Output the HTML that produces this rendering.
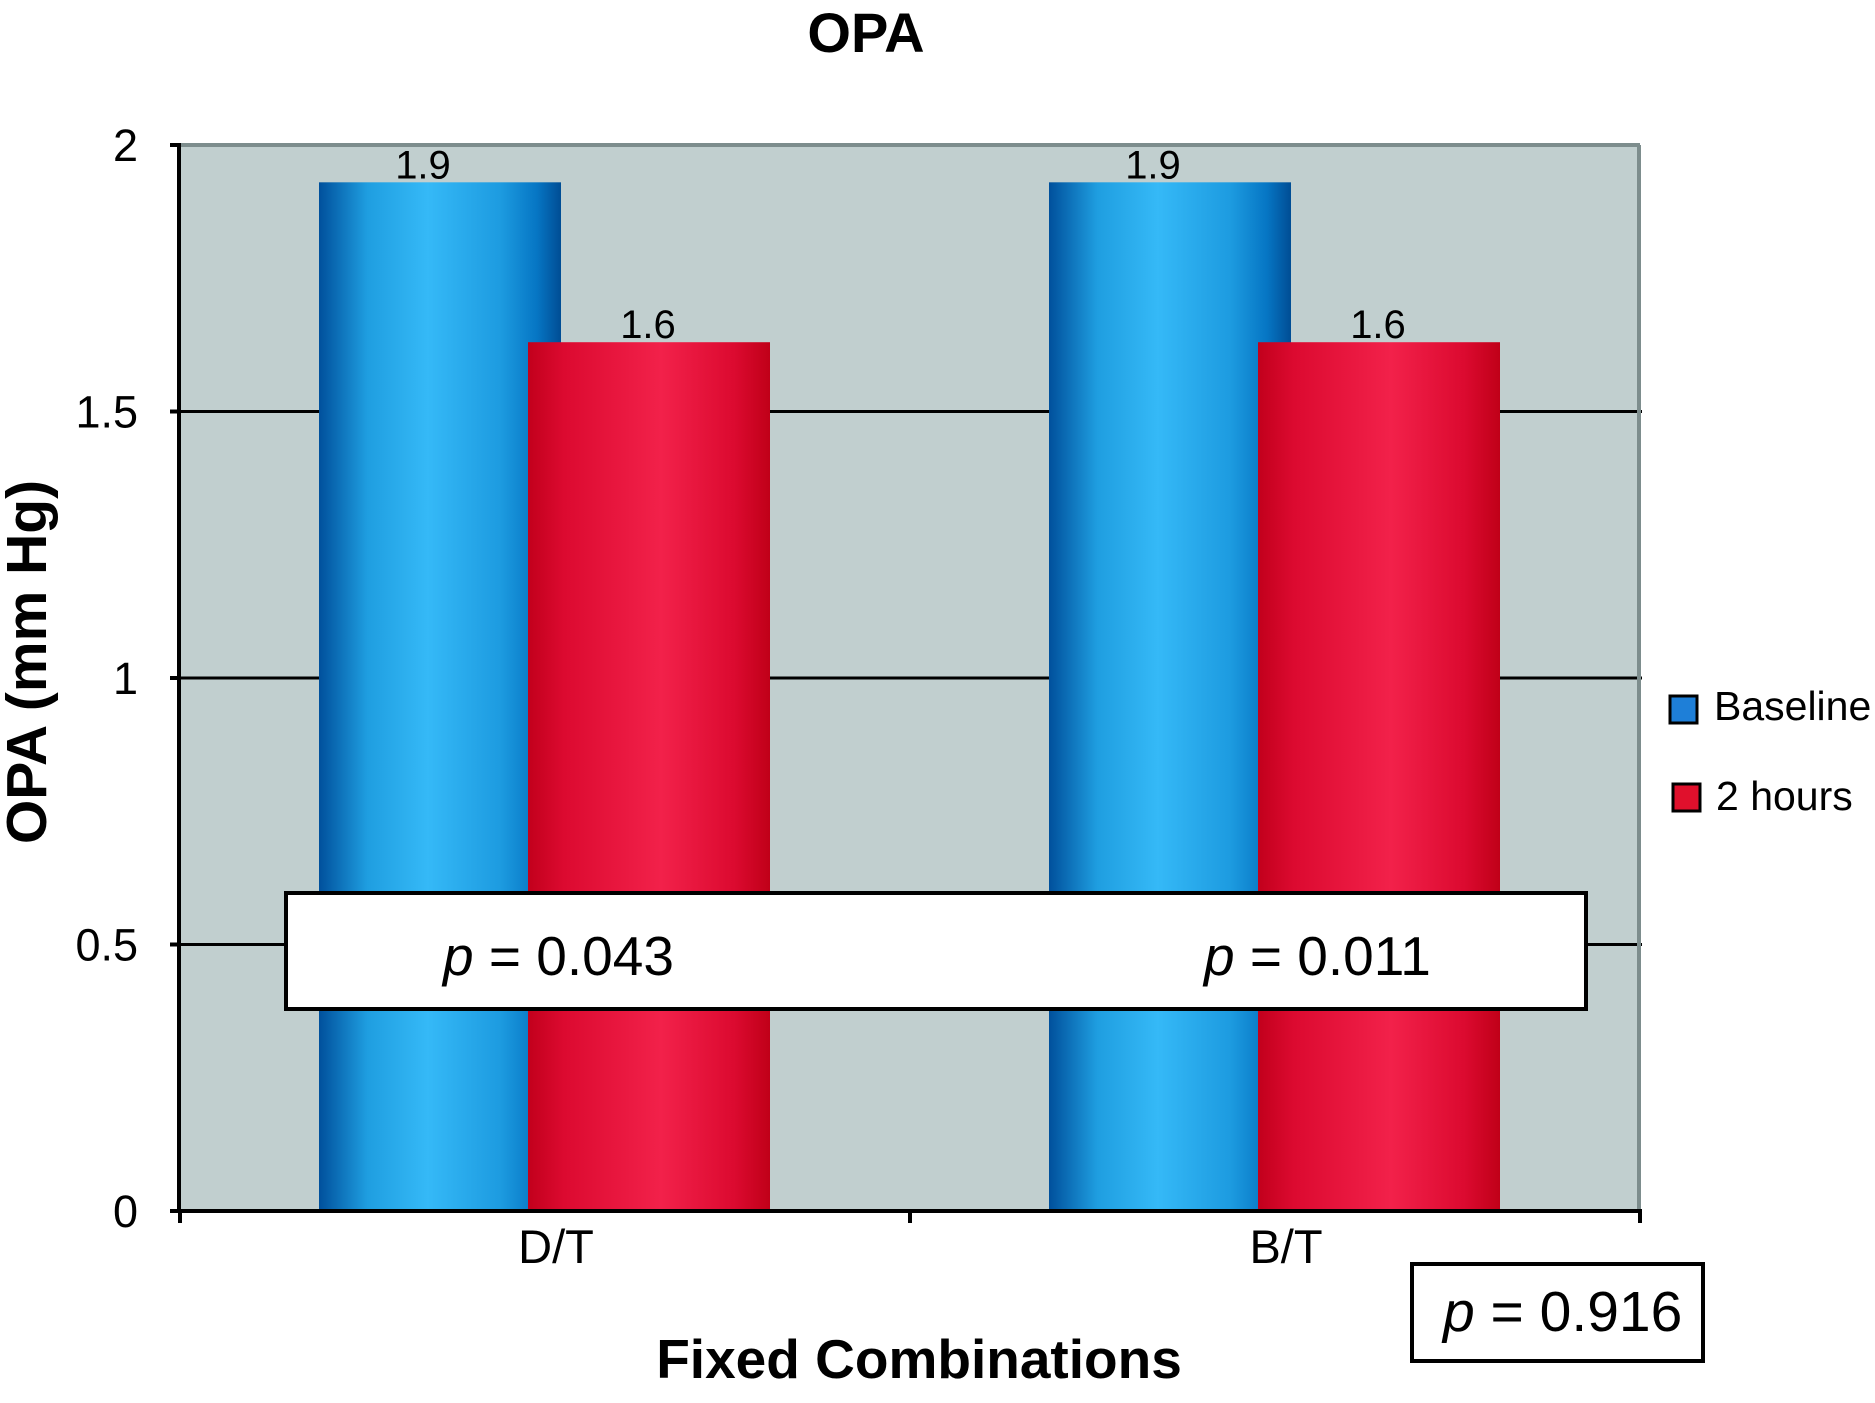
<!DOCTYPE html>
<html><head><meta charset="utf-8"><style>
html,body{margin:0;padding:0;background:#fff;}
svg{display:block;font-family:"Liberation Sans",Arial,sans-serif;}
</style></head><body>
<svg id="chart" width="1875" height="1403" viewBox="0 0 1875 1403">
<defs>
<linearGradient id="gBlue" x1="0" x2="1" y1="0" y2="0">
<stop offset="0" stop-color="#00509c"/><stop offset="0.2" stop-color="#1f9ee0"/><stop offset="0.45" stop-color="#35b9f7"/><stop offset="0.75" stop-color="#1d9be0"/><stop offset="0.9" stop-color="#0676c4"/><stop offset="1" stop-color="#004d94"/>
</linearGradient>
<linearGradient id="gRed" x1="0" x2="1" y1="0" y2="0">
<stop offset="0" stop-color="#c2001c"/><stop offset="0.15" stop-color="#dc0a30"/><stop offset="0.55" stop-color="#f2214a"/><stop offset="0.85" stop-color="#dc0a30"/><stop offset="1" stop-color="#c00018"/>
</linearGradient>
</defs>
<rect x="180" y="145" width="1460" height="1066" fill="#c1cfcf"/>
<g id="grid"></g>
<g id="bars"></g>
<line x1="180" y1="145" x2="1640" y2="145" stroke="#7d8d8d" stroke-width="4"/>
<line x1="1639" y1="145" x2="1639" y2="1211" stroke="#7d8d8d" stroke-width="4"/>
<line x1="179" y1="143" x2="179" y2="1213" stroke="#000" stroke-width="4"/>
<line x1="177" y1="1211" x2="1642" y2="1211" stroke="#000" stroke-width="4"/>
<g id="axes"></g>
<text x="866" y="52" font-size="56" font-weight="bold" text-anchor="middle">OPA</text>
<text transform="translate(46,662) rotate(-90)" font-size="57" font-weight="bold" text-anchor="middle">OPA (mm Hg)</text>
<text x="919" y="1378" font-size="55" font-weight="bold" text-anchor="middle">Fixed Combinations</text>
<rect x="286" y="893" width="1300" height="116" fill="#fff" stroke="#000" stroke-width="4"/>
<text x="443" y="975" font-size="55"><tspan font-style="italic">p</tspan> = 0.043</text>
<text x="1204" y="975" font-size="55"><tspan font-style="italic">p</tspan> = 0.011</text>
<rect x="1412" y="1264" width="291" height="97" fill="#fff" stroke="#000" stroke-width="4"/>
<text x="1443" y="1331" font-size="57"><tspan font-style="italic">p</tspan> = 0.916</text>
<g>
<rect x="1670" y="696" width="27" height="27" fill="#1e7fd8" stroke="#000" stroke-width="3"/>
<text x="1714" y="720" font-size="41">Baseline</text>
<rect x="1673" y="784" width="27" height="27" fill="#e0102c" stroke="#000" stroke-width="3"/>
<text x="1716" y="810" font-size="41">2 hours</text>
</g>
</svg>
<script>
const categories = ["D/T", "B/T"];
const baselineValues = [1.93, 1.93];
const twoHourValues = [1.63, 1.63];
const baselineLabels = ["1.9", "1.9"];
const twoHourLabels = ["1.6", "1.6"];
const yTicks = [0, 0.5, 1, 1.5, 2];
const yTickLabels = ["0", "0.5", "1", "1.5", "2"];

const NS = "http://www.w3.org/2000/svg";
const X0 = 180, X1 = 1640, Y0 = 1211, Y1 = 145, YMAX = 2;
function yScale(v){ return Y0 - (v / YMAX) * (Y0 - Y1); }
function catCenter(i){ const w = (X1 - X0) / categories.length; return X0 + w * (i + 0.5); }
function mk(tag, attrs, parent){ const e = document.createElementNS(NS, tag); for (const k in attrs) e.setAttribute(k, attrs[k]); parent.appendChild(e); return e; }

const grid = document.getElementById("grid");
const bars = document.getElementById("bars");
const axes = document.getElementById("axes");

yTicks.forEach((t, i) => {
  const y = yScale(t);
  if (t > 0 && t < YMAX) {
    const g = mk("line", {x1: X0, x2: X1 + 2, y1: y, y2: y, stroke: "#000", "stroke-width": 3}, grid);
    
    
  }
  const tk = mk("line", {x1: X0 - 10, x2: X0, y1: y, y2: y, stroke: "#000", "stroke-width": 4}, axes);
  
  
  const lb = mk("text", {x: 138, y: y + 16, "font-size": 45, "text-anchor": "end"}, axes);
  lb.textContent = yTickLabels[i];
  
  
});

for (let i = 0; i <= categories.length; i++) {
  const x = X0 + (X1 - X0) / categories.length * i;
  const tk = mk("line", {x1: x, x2: x, y1: Y0, y2: Y0 + 12, stroke: "#000", "stroke-width": 4}, axes);
  
  
}

const BW = 242;
categories.forEach((c, i) => {
  const cx = catCenter(i);
  const bx = cx - 226, rx = cx - 17;
  const by = yScale(baselineValues[i]);
  const b = mk("rect", {x: bx, y: by, width: BW, height: Y0 - by, fill: "url(#gBlue)"}, bars);
  
  
  const ry = yScale(twoHourValues[i]);
  const r = mk("rect", {x: rx, y: ry, width: BW, height: Y0 - ry, fill: "url(#gRed)"}, bars);
  
  
  const bl = mk("text", {x: bx + BW / 2 - 17, y: by - 4, "font-size": 40, "text-anchor": "middle"}, bars);
  bl.textContent = baselineLabels[i];
  
  
  const rl = mk("text", {x: rx + BW / 2 - 1, y: ry - 4, "font-size": 40, "text-anchor": "middle"}, bars);
  rl.textContent = twoHourLabels[i];
  
  
  const cl = mk("text", {x: cx + 11, y: 1263, "font-size": 47, "text-anchor": "middle"}, axes);
  cl.textContent = c;
  
  
});
</script>
</body></html>
